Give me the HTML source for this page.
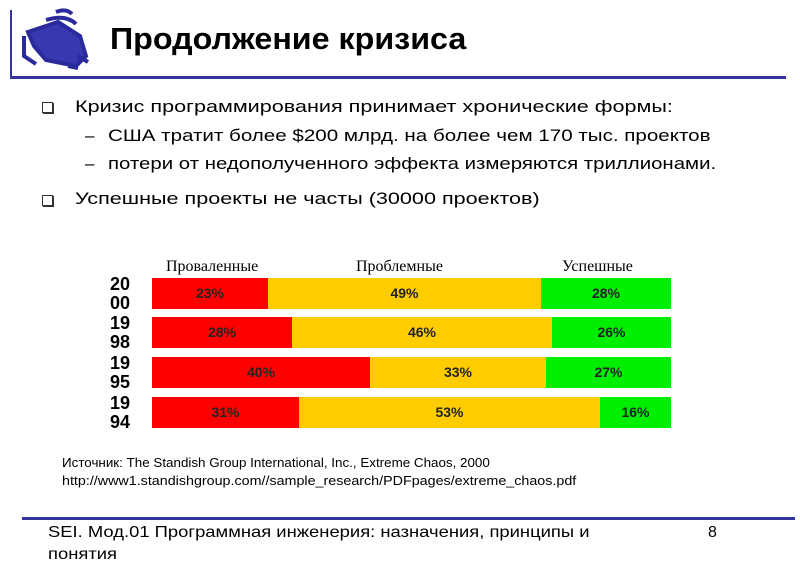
<!DOCTYPE html>
<html><head><meta charset="utf-8"><style>
body{margin:0;width:800px;height:554px;background:#fff;position:relative;overflow:hidden;font-family:"Liberation Sans",sans-serif;}
.a{position:absolute;white-space:nowrap;transform-origin:0 0;}
.t{font-size:17px;color:#000;}
.bar{position:absolute;height:31px;}
.bar div{position:absolute;top:0;height:31px;font-weight:bold;font-size:14px;line-height:31px;text-align:center;color:#222;}
.r{background:#f00}.y{background:#fc0}.g{background:#0e0}
.yr{position:absolute;left:110px;font-weight:bold;font-size:18px;line-height:19px;}
.h{position:absolute;top:258px;font-family:"Liberation Serif",serif;font-size:16px;}
</style></head><body>
<div class="a" style="left:10px;top:10px;width:2px;height:67px;background:#33339a"></div>
<div class="a" style="left:10px;top:76px;width:776px;height:3px;background:#33339a"></div>
<svg class="a" style="left:18px;top:6px" width="78" height="66" viewBox="0 0 78 66">
<g fill="none" stroke="#2a2a9c" stroke-width="4">
<path d="M38 6 q10-4 16 2 M28 14 q20-6 30 4"/>
<path d="M10 26 l30-10 22 14 6 20 -10 10 -30 -6 -12 -14z" fill="#3838b0"/>
<path d="M6 30 v20 l12 8 M60 50 l10 6 M50 60 l10 2"/>
</g></svg>
<div class="a" style="left:110px;top:21px;font-size:31px;font-weight:bold;transform:scaleX(1.04)">Продолжение кризиса</div>
<div class="a" style="left:42px;top:102px;width:9px;height:9px;border:1px solid #333;box-shadow:1px 1px 0 #333"></div>
<div class="a t" style="left:75px;top:97px;transform:scaleX(1.27)">Кризис программирования принимает хронические формы:</div>
<div class="a t" style="left:85px;top:126px;font-size:17px">–</div>
<div class="a t" style="left:108px;top:126px;transform:scaleX(1.21)">США тратит более $200 млрд. на более чем 170 тыс. проектов</div>
<div class="a t" style="left:85px;top:154px">–</div>
<div class="a t" style="left:108px;top:154px;transform:scaleX(1.2)">потери от недополученного эффекта измеряются триллионами.</div>
<div class="a" style="left:42px;top:195px;width:9px;height:9px;border:1px solid #333;box-shadow:1px 1px 0 #333"></div>
<div class="a t" style="left:75px;top:189px;transform:scaleX(1.27)">Успешные проекты не часты (30000 проектов)</div>

<div class="h" style="left:166px">Проваленные</div>
<div class="h" style="left:356px">Проблемные</div>
<div class="h" style="left:562px">Успешные</div>

<div class="yr" style="top:275px">20<br>00</div>
<div class="yr" style="top:314px">19<br>98</div>
<div class="yr" style="top:354px">19<br>95</div>
<div class="yr" style="top:394px">19<br>94</div>

<div class="bar" style="left:152px;top:278px;width:519px">
<div class="r" style="left:0;width:116px">23%</div><div class="y" style="left:116px;width:273px">49%</div><div class="g" style="left:389px;width:130px">28%</div></div>
<div class="bar" style="left:152px;top:317px;width:519px">
<div class="r" style="left:0;width:140px">28%</div><div class="y" style="left:140px;width:260px">46%</div><div class="g" style="left:400px;width:119px">26%</div></div>
<div class="bar" style="left:152px;top:357px;width:519px">
<div class="r" style="left:0;width:218px">40%</div><div class="y" style="left:218px;width:176px">33%</div><div class="g" style="left:394px;width:125px">27%</div></div>
<div class="bar" style="left:152px;top:397px;width:519px">
<div class="r" style="left:0;width:147px">31%</div><div class="y" style="left:147px;width:301px">53%</div><div class="g" style="left:448px;width:71px">16%</div></div>

<div class="a" style="left:62px;top:455px;font-size:13px;transform:scaleX(1.03)">Источник: The Standish Group International, Inc., Extreme Chaos, 2000</div>
<div class="a" style="left:62px;top:473px;font-size:13px;transform:scaleX(1.1)">http://www1.standishgroup.com//sample_research/PDFpages/extreme_chaos.pdf</div>
<div class="a" style="left:22px;top:517px;width:773px;height:3px;background:#33339a"></div>
<div class="a" style="left:48px;top:522px;font-size:16px;line-height:22px;transform:scaleX(1.15)">SEI. Мод.01 Программная инженерия: назначения, принципы и<br>понятия</div>
<div class="a" style="left:708px;top:522px;font-size:16px;line-height:22px">8</div>
</body></html>
